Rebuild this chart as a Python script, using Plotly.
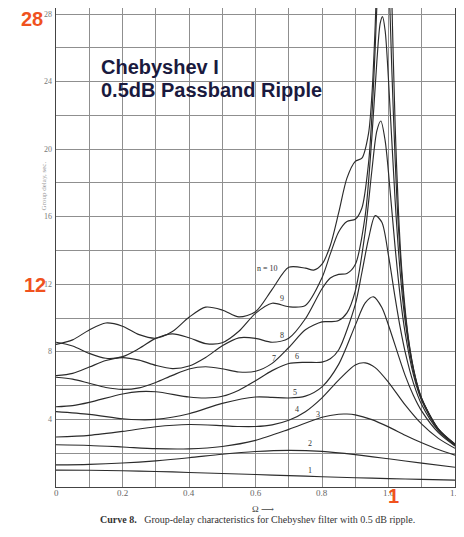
import plotly.graph_objects as go

# ---- data (group delay vs normalized frequency) ----
omega_1 = [0, 0.1, 0.2, 0.3, 0.4, 0.5, 0.6, 0.7, 0.8, 0.9, 1.0, 1.1, 1.2]
delay_1 = [1.0, 0.99, 0.96, 0.92, 0.86, 0.80, 0.74, 0.67, 0.61, 0.55, 0.50, 0.45, 0.41]

omega_2 = [0, 0.1, 0.2, 0.3, 0.4, 0.5, 0.6, 0.7, 0.8, 0.9, 1.0, 1.1, 1.2]
delay_2 = [1.31, 1.34, 1.42, 1.55, 1.73, 1.94, 2.10, 2.17, 2.11, 1.92, 1.67, 1.41, 1.17]

omega_3 = [0, 0.1, 0.2, 0.3, 0.4, 0.5, 0.6, 0.7, 0.8, 0.85, 0.875, 0.9, 0.95, 1.0, 1.05, 1.1, 1.15, 1.2]
delay_3 = [2.50, 2.46, 2.37, 2.27, 2.26, 2.40, 2.76, 3.41, 4.13, 4.31, 4.32, 4.27, 3.99, 3.56, 3.07, 2.62, 2.22, 1.89]

omega_4 = [0, 0.1, 0.2, 0.3, 0.4, 0.5, 0.55, 0.6, 0.65, 0.7, 0.75, 0.8, 0.85, 0.9, 0.93, 0.96, 1.0, 1.05, 1.1, 1.15, 1.2]
delay_4 = [2.96, 3.06, 3.29, 3.57, 3.70, 3.63, 3.58, 3.58, 3.68, 3.95, 4.46, 5.28, 6.33, 7.23, 7.35, 7.07, 6.20, 4.86, 3.72, 2.88, 2.29]

omega_5 = [0, 0.1, 0.2, 0.25, 0.3, 0.4, 0.5, 0.6, 0.65, 0.7, 0.75, 0.8, 0.85, 0.9, 0.93, 0.955, 0.98, 1.0, 1.05, 1.075, 1.1, 1.15, 1.2]
delay_5 = [4.46, 4.30, 4.04, 3.98, 4.00, 4.34, 4.95, 5.33, 5.31, 5.27, 5.38, 5.93, 7.26, 9.57, 10.90, 11.26, 10.63, 9.58, 6.61, 5.42, 4.49, 3.22, 2.43]

omega_6 = [0, 0.05, 0.1, 0.2, 0.25, 0.3, 0.4, 0.45, 0.5, 0.55, 0.6, 0.65, 0.7, 0.75, 0.8, 0.825, 0.85, 0.9, 0.92, 0.94, 0.96, 0.98, 1.0, 1.02, 1.035, 1.05, 1.075, 1.1, 1.15, 1.2]
delay_6 = [4.75, 4.82, 5.01, 5.51, 5.65, 5.64, 5.33, 5.27, 5.37, 5.73, 6.29, 6.89, 7.31, 7.38, 7.39, 7.59, 8.11, 10.80, 12.70, 14.70, 16.07, 15.67, 13.70, 11.20, 9.46, 8.00, 6.15, 4.87, 3.33, 2.47]

omega_7 = [0, 0.05, 0.1, 0.15, 0.2, 0.25, 0.3, 0.35, 0.4, 0.45, 0.5, 0.55, 0.6, 0.65, 0.7, 0.75, 0.8, 0.825, 0.85, 0.875, 0.9, 0.93, 0.95, 0.965, 0.977, 0.99, 1.0, 1.02, 1.035, 1.05, 1.075, 1.1, 1.15, 1.2]
delay_7 = [6.50, 6.39, 6.14, 5.89, 5.78, 5.87, 6.19, 6.61, 6.99, 7.12, 7.00, 6.81, 6.85, 7.32, 8.26, 9.31, 9.78, 9.79, 9.86, 10.31, 11.60, 15.12, 18.74, 21.09, 21.67, 20.49, 18.61, 14.17, 11.32, 9.13, 6.64, 5.10, 3.39, 2.50]

omega_8 = [0, 0.05, 0.1, 0.15, 0.2, 0.25, 0.3, 0.35, 0.4, 0.45, 0.5, 0.55, 0.6, 0.65, 0.7, 0.75, 0.8, 0.825, 0.85, 0.875, 0.9, 0.93, 0.95, 0.965, 0.975, 0.982, 0.99, 1.0, 1.02, 1.035, 1.05, 1.075, 1.1, 1.15, 1.2]
delay_8 = [6.59, 6.73, 7.10, 7.49, 7.66, 7.51, 7.20, 7.01, 7.16, 7.67, 8.36, 8.83, 8.80, 8.57, 8.81, 9.96, 11.74, 12.37, 12.59, 12.64, 13.17, 16.08, 20.73, 25.20, 27.45, 27.85, 27.00, 24.10, 16.93, 12.73, 9.84, 6.88, 5.19, 3.42, 2.53]

omega_9 = [0, 0.05, 0.1, 0.15, 0.2, 0.25, 0.3, 0.35, 0.4, 0.45, 0.5, 0.55, 0.6, 0.65, 0.7, 0.75, 0.8, 0.825, 0.85, 0.875, 0.9, 0.92, 0.94, 0.95, 0.96, 0.97, 0.98, 0.986, 1.0, 1.01, 1.02, 1.03, 1.05, 1.075, 1.1, 1.15, 1.2]
delay_9 = [8.57, 8.35, 7.91, 7.62, 7.72, 8.20, 8.80, 9.07, 8.84, 8.49, 8.54, 9.22, 10.28, 10.88, 10.67, 10.75, 12.39, 13.80, 15.10, 15.72, 15.85, 16.52, 19.18, 21.94, 25.99, 30.96, 34.93, 35.50, 30.64, 24.69, 19.37, 15.32, 10.25, 6.98, 5.22, 3.43, 2.53]

omega_10 = [0, 0.05, 0.1, 0.15, 0.2, 0.25, 0.3, 0.35, 0.4, 0.45, 0.5, 0.55, 0.6, 0.65, 0.7, 0.75, 0.775, 0.8, 0.825, 0.85, 0.875, 0.9, 0.92, 0.94, 0.95, 0.96, 0.965, 0.97, 0.98, 0.99, 1.0, 1.01, 1.02, 1.03, 1.04, 1.06, 1.08, 1.1, 1.15, 1.2]
delay_10 = [8.44, 8.71, 9.30, 9.71, 9.52, 9.02, 8.81, 9.20, 10.05, 10.65, 10.48, 10.07, 10.38, 11.70, 13.01, 12.96, 12.84, 13.19, 14.30, 16.23, 18.29, 19.28, 19.47, 20.94, 23.20, 27.33, 30.28, 33.82, 41.13, 43.60, 37.79, 28.82, 21.42, 16.29, 12.84, 8.79, 6.58, 5.24, 3.44, 2.55]

curve_labels = ["1", "2", "3", "4", "5", "6", "7", "8", "9", "n = 10"]
label_omega = [0.764, 0.764, 0.787, 0.725, 0.72, 0.726, 0.655, 0.68, 0.68, 0.636]
label_delay = [1.0, 2.6, 4.3, 4.56, 5.62, 7.7, 7.6, 8.98, 11.15, 12.93]

x_tick_vals = [0, 0.2, 0.4, 0.6, 0.8, 1.0, 1.2]
x_tick_text = ["0", "0.2", "0.4", "0.6", "0.8", "1.0", "1.2"]
y_tick_vals = [4, 8, 12, 16, 20, 24, 28]
y_tick_text = ["4", "8", "12", "16", "20", "24", "28"]

series = [
    (omega_1, delay_1), (omega_2, delay_2), (omega_3, delay_3), (omega_4, delay_4),
    (omega_5, delay_5), (omega_6, delay_6), (omega_7, delay_7), (omega_8, delay_8),
    (omega_9, delay_9), (omega_10, delay_10),
]

fig = go.Figure()
for xs, ys in series:
    fig.add_trace(go.Scatter(
        x=xs, y=ys, mode="lines",
        line=dict(color="#2b2b2b", width=1.15, shape="spline", smoothing=0.8),
        hoverinfo="skip", showlegend=False,
    ))

grid_col = "#8f8f8f"
serif = "Liberation Serif, DejaVu Serif, serif"

# the page body adds an 8px offset, so the margins are set to compensate
fig.update_layout(
    width=464, height=537,
    margin=dict(l=48, r=17, t=0, b=58, pad=0, autoexpand=False),
    paper_bgcolor="white", plot_bgcolor="white",
    xaxis=dict(
        range=[0, 1.2], tickvals=x_tick_vals, ticktext=x_tick_text,
        showticklabels=False, automargin=False,
        showgrid=True, gridcolor=grid_col, gridwidth=1,
        minor=dict(dtick=0.1, tick0=0, showgrid=True, gridcolor=grid_col, gridwidth=1),
        showline=True, linecolor="#444", linewidth=1.2, zeroline=False, ticks="",
    ),
    yaxis=dict(
        range=[0, 28.36], tickvals=y_tick_vals, ticktext=y_tick_text,
        showticklabels=False, automargin=False,
        showgrid=True, gridcolor=grid_col, gridwidth=1,
        minor=dict(dtick=2, tick0=0, showgrid=True, gridcolor=grid_col, gridwidth=1),
        showline=True, mirror=True, linecolor="#444", linewidth=1.2, zeroline=False, ticks="",
    ),
)

# tick labels (placed like the scanned original)
for v, t in zip(x_tick_vals, x_tick_text):
    fig.add_annotation(x=v, xref="x", y=-0.0125, yref="paper", text=t, showarrow=False,
                       xanchor="center", yanchor="middle", borderpad=0,
                       font=dict(family=serif, size=9, color="#666"))
for v, t in zip(y_tick_vals, y_tick_text):
    fig.add_annotation(x=-0.008, xref="paper", y=v, yref="y", text=t, showarrow=False,
                       xanchor="right", yanchor="middle", borderpad=0,
                       font=dict(family=serif, size=8, color="#777"))

# curve labels
for txt, lx, ly in zip(curve_labels, label_omega, label_delay):
    fig.add_annotation(x=lx, y=ly, text=txt, showarrow=False,
                       font=dict(family=serif, size=8, color="#333"),
                       xanchor="center", yanchor="middle")

# title block
title_font = dict(family="Liberation Sans, Arial, sans-serif", size=20, color="#1a1a3e")
fig.add_annotation(xref="paper", yref="paper", x=0.1078, y=0.877, text="<b>Chebyshev I</b>",
                   showarrow=False, xanchor="left", yanchor="middle", font=title_font)
fig.add_annotation(xref="paper", yref="paper", x=0.1078, y=0.829, text="<b>0.5dB Passband Ripple</b>",
                   showarrow=False, xanchor="left", yanchor="middle", font=title_font)

# orange highlight numbers
orange = dict(family="Liberation Sans, Arial, sans-serif", size=20, color="#f0521e")
fig.add_annotation(xref="paper", yref="paper", x=-0.060, y=0.978, text="<b>28</b>",
                   showarrow=False, xanchor="center", yanchor="middle", font=orange)
fig.add_annotation(xref="paper", yref="paper", x=-0.053, y=0.422, text="<b>12</b>",
                   showarrow=False, xanchor="center", yanchor="middle", font=orange)
fig.add_annotation(xref="paper", yref="paper", x=0.845, y=-0.0188, text="<b>1</b>",
                   showarrow=False, xanchor="center", yanchor="middle", font=orange)

# axis titles and caption
fig.add_annotation(xref="paper", yref="paper", x=-0.045, y=0.683, text="Group delay, sec.",
                   textangle=-90, showarrow=False, font=dict(family=serif, size=7, color="#999"))
fig.add_annotation(xref="paper", yref="paper", x=0.519, y=-0.0465, text="\u03a9 \u27f6",
                   showarrow=False, borderpad=0, yanchor="middle",
                   font=dict(family=serif, size=9, color="#444"))
fig.add_annotation(xref="paper", yref="paper", x=0.504, y=-0.0835,
                   text="<b>Curve 8.</b>   Group-delay characteristics for Chebyshev filter with 0.5 dB ripple.",
                   showarrow=False, font=dict(family=serif, size=10, color="#333"))

fig.write_html("out.html")
